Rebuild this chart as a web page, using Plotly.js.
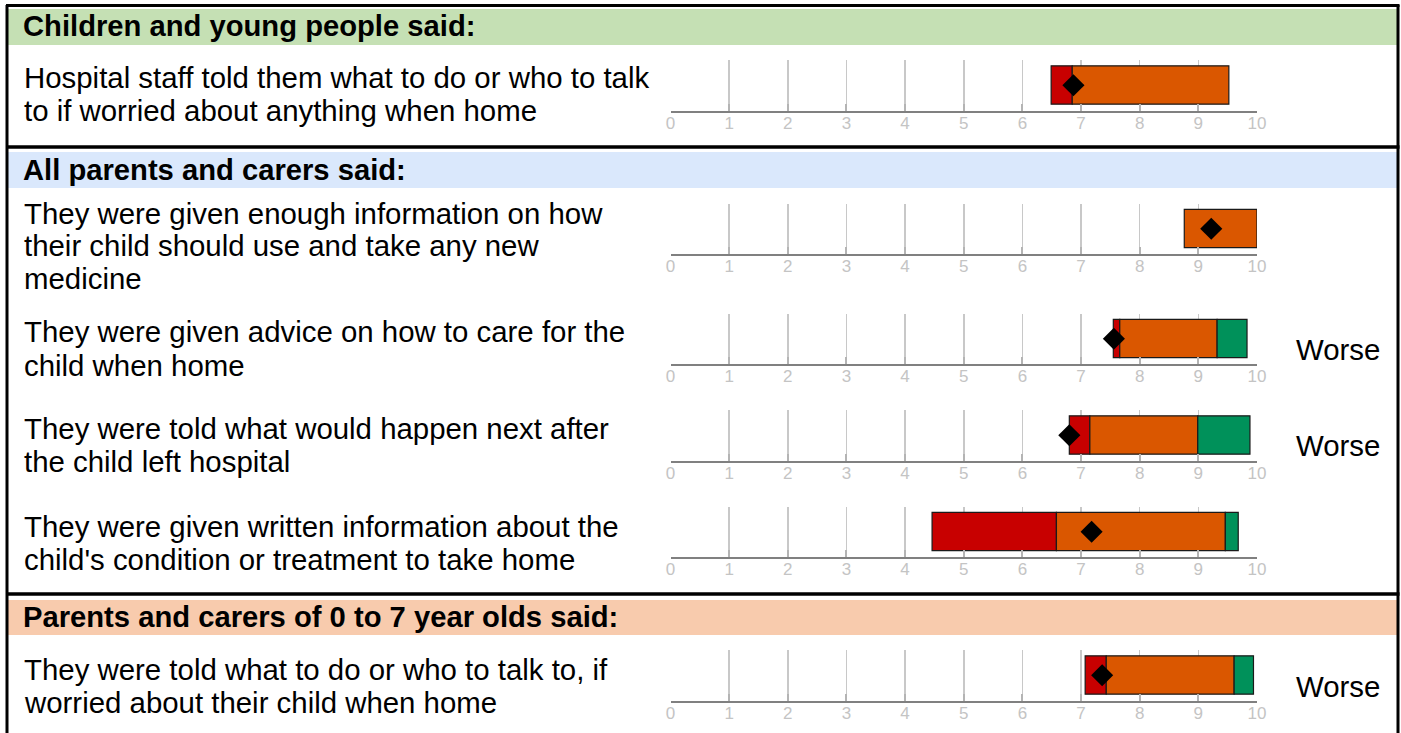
<!DOCTYPE html>
<html>
<head>
<meta charset="utf-8">
<script src="https://cdn.plot.ly/plotly-3.0.1.min.js"></script>
<style>html,body{margin:0;padding:0;background:#fff;}#chart{width:1401px;height:733px;}</style>
</head>
<body>
<div id="chart"></div>
<script>
// ---------- DATA ----------
const sections = [
  "Children and young people said:",
  "All parents and carers said:",
  "Parents and carers of 0 to 7 year olds said:"
];
const questionLines = [
  ["Hospital staff told them what to do or who to talk", "to if worried about anything when home"],
  ["They were given enough information on how", "their child should use and take any new", "medicine"],
  ["They were given advice on how to care for the", "child when home"],
  ["They were told what would happen next after", "the child left hospital"],
  ["They were given written information about the", "child's condition or treatment to take home"],
  ["They were told what to do or who to talk to, if", "worried about their child when home"]
];
const redStart    = [6.49, 8.76, 7.55, 6.80, 4.46, 7.07];
const orangeStart = [6.85, 8.76, 7.66, 7.15, 6.58, 7.43];
const greenStart  = [9.52, 10.0, 9.32, 8.99, 9.46, 9.61];
const greenEnd    = [9.52, 10.0, 9.83, 9.88, 9.68, 9.94];
const scores      = [6.87, 9.22, 7.56, 6.80, 7.18, 7.36];
const comparison  = ["", "", "Worse", "Worse", "", "Worse"];
const tickValues  = [0,1,2,3,4,5,6,7,8,9,10];
const tickLabels  = ["0","1","2","3","4","5","6","7","8","9","10"];

// ---------- LAYOUT HELPERS (pixel -> paper) ----------
const W = 1401, H = 733;
const X = px => px / W;
const Y = py => 1 - py / H;
const FONT = "Liberation Sans, Arial, sans-serif";

const axisPx = [110.5, 254, 364, 460.5, 557, 700.5];   // axis line y per row
const gridH = 50.5;
const axisX0 = 670.5, axisX1 = 1257;
const textLineY = [[78,111],[213,245,278],[332,365],[429,462],[526,559],[669,702]];
const sectionY = [25.5, 169.5, 616.5];
const worseY = [0,0,349,445,0,686];

const colors = {red:"#c80000", orange:"#da5700", green:"#00915a"};

const traces = [];
const layout = {
  width: W, height: H, autosize:false,
  margin:{l:0,r:0,t:0,b:0,pad:0},
  paper_bgcolor:"#ffffff", plot_bgcolor:"rgba(0,0,0,0)",
  showlegend:false, barmode:"overlay",
  font:{family:FONT, color:"#000"},
  shapes:[], annotations:[]
};

const seg = (a,b) => (b - a) > 0.0001 ? (b - a) : null;
const TXT = 29.4;

for (let i = 0; i < 6; i++) {
  const sfx = i === 0 ? "" : String(i+1);
  const xa = "x" + sfx, ya = "y" + sfx;
  const parts = [
    {s:redStart[i], e:orangeStart[i], c:colors.red},
    {s:orangeStart[i], e:greenStart[i], c:colors.orange},
    {s:greenStart[i], e:greenEnd[i], c:colors.green}
  ];
  parts.forEach(p => {
    const w = seg(p.s, p.e);
    if (w === null) return;
    traces.push({
      type:"bar", orientation:"h", xaxis:xa, yaxis:ya,
      y:[0.505], x:[w], base:[p.s], width:[0.76],
      marker:{color:p.c, line:{color:"#1a1a1a", width:1.2}},
      hoverinfo:"skip"
    });
  });
  traces.push({
    type:"scatter", mode:"markers", xaxis:xa, yaxis:ya,
    x:[scores[i]], y:[0.5],
    marker:{symbol:"diamond", size:17, color:"#000"},
    hoverinfo:"skip"
  });
  layout["xaxis"+sfx] = {
    domain:[X(axisX0), X(axisX1)], range:[0,10], anchor:ya,
    tickmode:"array", tickvals:tickValues, ticktext:tickLabels,
    showgrid:true, gridcolor:"#c8c8c8", gridwidth:1.5,
    showline:true, linecolor:"#808080", linewidth:2,
    ticks:"inside", ticklen:7, tickwidth:2, tickcolor:"#b4b4b4",
    ticklabelstandoff:-4,
    tickfont:{family:FONT, size:17, color:"#c4c4c4"},
    zeroline:false, fixedrange:true
  };
  layout["yaxis"+sfx] = {
    domain:[Y(axisPx[i]), Y(axisPx[i]-gridH)], range:[0,1], anchor:xa,
    visible:false, fixedrange:true
  };
  questionLines[i].forEach((ln, k) => {
    layout.annotations.push({
      xref:"paper", yref:"paper", x:X(23), y:Y(textLineY[i][k]),
      xanchor:"left", yanchor:"middle", showarrow:false, borderpad:0,
      text:ln, font:{family:FONT, size:TXT, color:"#000"}
    });
  });
  if (comparison[i]) {
    layout.annotations.push({
      xref:"paper", yref:"paper", x:X(1295), y:Y(worseY[i]),
      xanchor:"left", yanchor:"middle", showarrow:false, borderpad:0,
      text:comparison[i], font:{family:FONT, size:TXT, color:"#000"}
    });
  }
}

// section header bands
const bandColors = ["#c5e0b4", "#dae8fc", "#f8cbad"];
const bandPx = [[9,45],[152,188],[600,635]];
bandPx.forEach((b, j) => {
  layout.shapes.push({type:"rect", xref:"paper", yref:"paper", layer:"below",
    x0:X(8), x1:X(1397), y0:Y(b[1]), y1:Y(b[0]), fillcolor:bandColors[j], line:{width:0}});
  layout.annotations.push({
    xref:"paper", yref:"paper", x:X(22), y:Y(sectionY[j]),
    xanchor:"left", yanchor:"middle", showarrow:false, borderpad:0,
    text:"<b>" + sections[j] + "</b>", font:{family:FONT, size:29.2, color:"#000"}
  });
});

// frame lines
const L = (x0,y0,x1,y1,w) => layout.shapes.push({type:"line", xref:"paper", yref:"paper",
  x0:X(x0), y0:Y(y0), x1:X(x1), y1:Y(y1), line:{color:"#000", width:w}});
L(7, 5, 7, 740, 3);
L(1398, 5, 1398, 740, 3);
L(6, 5.5, 1399.5, 5.5, 3);
L(6, 147, 1399.5, 147, 3.5);
L(6, 594, 1399.5, 594, 3.5);

Plotly.newPlot("chart", traces, layout, {staticPlot:true, displayModeBar:false});
</script>
</body>
</html>
